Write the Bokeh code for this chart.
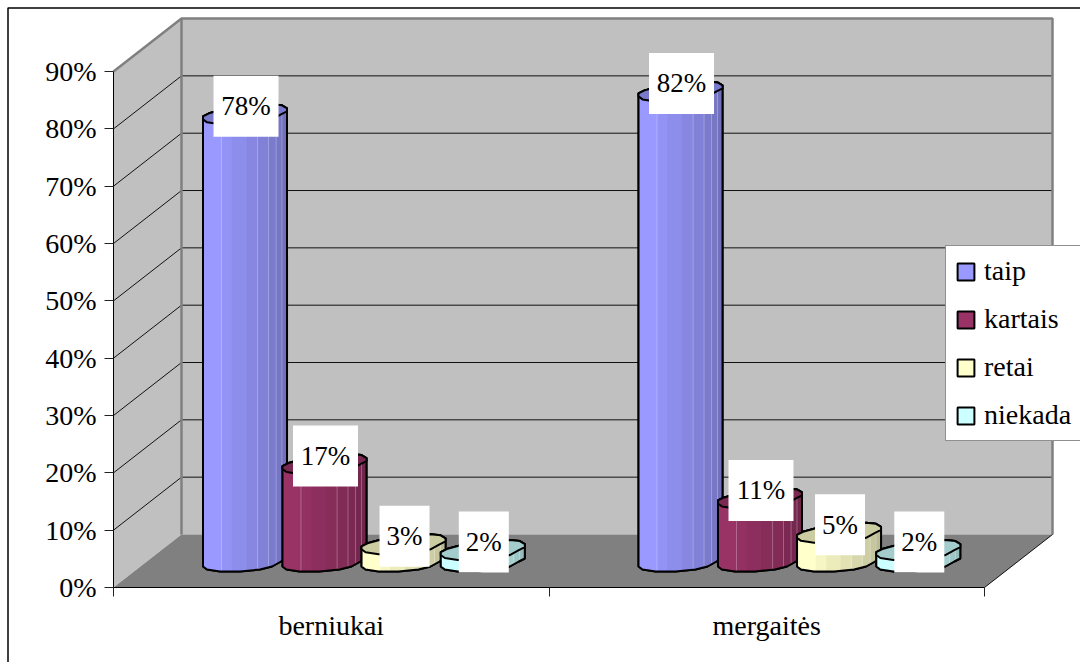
import numpy as np
from bokeh.plotting import figure
from bokeh.embed import file_html
from bokeh.resources import INLINE
from bokeh.core.properties import value
from bokeh.models import (LinearAxis, FixedTicker, PrintfTickFormatter, Legend, LegendItem, Range1d)

# ---- data -------------------------------------------------------------
categories = ["berniukai", "mergaitės"]
series = ["taip", "kartais", "retai", "niekada"]
taip = [78, 82]
kartais = [17, 11]
retai = [3, 5]
niekada = [2, 2]
y_ticks = [0, 10, 20, 30, 40, 50, 60, 70, 80, 90]
colors = ["#9999FF", "#993366", "#FFFFCC", "#CCFFFF"]
top_colors = ["#7A7ACC", "#7A2952", "#CCCCA3", "#A3CCCC"]
values = [taip, kartais, retai, niekada]

# ---- layout -----------------------------------------------------------
W, H = 1080, 662
X0, XU = 113.0, 435.5        # pixel of x=0, pixels per category
Y0, YU = 587.0, 5.733        # pixel of y=0, pixels per percent
DX, DY = 68 / XU, 53 / YU    # 3-D depth
FONT = "Liberation Serif"
FS = "28px"
FS_LAB = "27px"

def sx(px):
    return px / XU
def sy(px):
    return px / YU

p = figure(width=W, height=H, output_backend="svg", toolbar_location=None,
           x_axis_type=None, y_axis_type=None, min_border=0,
           x_range=Range1d(-X0 / XU, (W - X0) / XU),
           y_range=Range1d((Y0 - H) / YU, Y0 / YU),
           outline_line_color=None, background_fill_color="white",
           border_fill_color="white")
p.xgrid.visible = False
p.ygrid.visible = False

n_cat = len(categories)
top = y_ticks[-1]

# ---- chart border (only top and left) ---------------------------------
xs_b = [p.x_range.start + sx(7.5), p.x_range.start + sx(7.5), p.x_range.end]
ys_b = [p.y_range.start, p.y_range.end - sy(7.5), p.y_range.end - sy(7.5)]
p.line(xs_b, ys_b, line_color="black", line_width=1.5)

# ---- walls and floor --------------------------------------------------
p.patch([0, 0, DX, DX], [0, top, top + DY, DY], fill_color="#C0C0C0", line_color=None)
p.patch([DX, DX, n_cat + DX, n_cat + DX], [DY, top + DY, top + DY, DY], fill_color="#C0C0C0", line_color=None)
p.patch([0, n_cat, n_cat + DX, DX], [0, 0, DY, DY], fill_color="#808080", line_color=None)

grid = y_ticks[1:-1]
p.multi_line([[0, DX, n_cat + DX] for t in grid], [[t, t + DY, t + DY] for t in grid],
             line_color="#111111", line_width=1)
p.line([0, DX, n_cat + DX, n_cat + DX], [top, top + DY, top + DY, DY], line_color="#808080", line_width=2.5)
p.line([DX, DX], [DY, top + DY], line_color="#808080", line_width=2.5)
p.line([n_cat, n_cat + DX], [0, DY], line_color="#111111", line_width=1)

# ---- cylinders --------------------------------------------------------
bar_off = [0.302, 0.4845, 0.666, 0.848]
base_depth = sy(26)
lower = np.array([(-42, 5), (-38, 8), (-25, 10), (-5, 10), (15, 8), (27, 5), (36, 0), (42, -3)], float)
upper = np.array([(42, -6), (37, -9), (27, -10), (10, -9), (-10, -7), (-25, -4), (-36, -1), (-42, 2)], float)
fracs = [0, .22, .35, .52, .65, .78, .87, .94, 1]
shades = [1.0, .965, .925, .885, .845, .81, .775, .735]

def shade(c, f):
    r, g, b = (int(c[i:i + 2], 16) for i in (1, 3, 5))
    return "#%02x%02x%02x" % (int(r * f), int(g * f), int(b * f))

def lower_at(d):
    return float(np.interp(d, lower[:, 0], lower[:, 1]))

legend_items = []
for s, name in enumerate(series):
    sil_x, sil_y, top_x, top_y = [], [], [], []
    strip_x, strip_y, strip_c, lx, ly = [], [], [], [], []
    for g in range(n_cat):
        cx = g + bar_off[s]
        v = values[s][g]
        yb = base_depth
        yt = v + base_depth
        sil_x.append([cx + sx(d) for d, _ in lower] + [cx + sx(d) for d, _ in upper])
        sil_y.append([yb - sy(e) for _, e in lower] + [yt - sy(e) for _, e in upper])
        top_x.append([cx + sx(d) for d, _ in lower] + [cx + sx(d) for d, _ in upper])
        top_y.append([yt - sy(e) for _, e in lower] + [yt - sy(e) for _, e in upper])
        for k in range(len(fracs) - 1):
            a = -42 + 84 * fracs[k]
            b = -42 + 84 * fracs[k + 1]
            mid = [d for d in lower[:, 0] if a < d < b]
            ds = [a] + mid + [b]
            strip_x.append([cx + sx(d) for d in ds] + [cx + sx(d) for d in ds[::-1]])
            strip_y.append([yt - sy(lower_at(d)) for d in ds] + [yb - sy(lower_at(d)) for d in ds[::-1]])
            strip_c.append(shade(colors[s], shades[k]))
            if k in (0, 3, 4, 5, 6):
                lx.append([cx + sx(b), cx + sx(b)])
                ly.append([yt - sy(lower_at(b)), yb - sy(lower_at(b))])
    r = p.patches(sil_x, sil_y, fill_color=colors[s], line_color="black", line_width=2)
    legend_items.append(LegendItem(label=name, renderers=[r]))
    p.patches(strip_x, strip_y, fill_color=strip_c, line_color=strip_c, line_width=0.3)
    p.multi_line(lx, ly, line_color="white", line_alpha=0.28, line_width=1)
    p.patches(sil_x, sil_y, fill_color=None, line_color="black", line_width=2, line_join="round")
    p.patches(top_x, top_y, fill_color=top_colors[s], line_color="black", line_width=2, line_join="round")

# ---- value labels -----------------------------------------------------
for s, name in enumerate(series):
    for g in range(n_cat):
        v = values[s][g]
        lx_ = g + bar_off[s] + sx(1)
        ly_ = v + base_depth + sy(8)
        txt = f"{v}%"
        p.rect([lx_], [ly_], width=[65 if v >= 10 else 50], height=[61],
               width_units="screen", height_units="screen", fill_color="white", line_color=None)
        p.text([lx_], [ly_], text=[txt], text_align="center", text_baseline="middle",
               text_font=value(FONT), text_font_size=FS_LAB, text_color="black")

# ---- axes -------------------------------------------------------------
yax = LinearAxis(fixed_location=0, bounds=(0, top), ticker=FixedTicker(ticks=y_ticks),
                 formatter=PrintfTickFormatter(format="%d%%"),
                 major_tick_out=9, major_tick_in=0, minor_tick_out=0, minor_tick_in=0,
                 major_label_text_font=FONT, major_label_text_font_size=FS,
                 major_label_text_color="black", major_label_standoff=8,
                 axis_line_color="black", major_tick_line_color="#222222")
p.add_layout(yax, "left")

centers = [g + 0.5 for g in range(n_cat)]
xax = LinearAxis(fixed_location=0, bounds=(0, n_cat),
                 ticker=FixedTicker(ticks=centers, minor_ticks=list(range(n_cat + 1))),
                 major_label_overrides={c: categories[i] for i, c in enumerate(centers)},
                 major_tick_out=0, major_tick_in=0, minor_tick_out=9, minor_tick_in=0,
                 minor_tick_line_color="#222222", major_tick_line_color=None,
                 axis_line_color="black", major_label_standoff=13,
                 major_label_text_font=FONT, major_label_text_font_size=FS, major_label_text_color="black")
p.add_layout(xax, "below")

# ---- legend -----------------------------------------------------------
leg = Legend(items=legend_items, location=(945, 221), orientation="vertical",
             glyph_width=21, glyph_height=21, label_height=29, spacing=16, padding=9,
             margin=0, label_standoff=8, label_text_font=FONT, label_text_font_size=FS,
             label_text_color="black", border_line_color="#222222", border_line_width=1,
             background_fill_color="white", background_fill_alpha=1.0)
p.add_layout(leg, "center")

open("out.html", "w").write(file_html(p, INLINE))
